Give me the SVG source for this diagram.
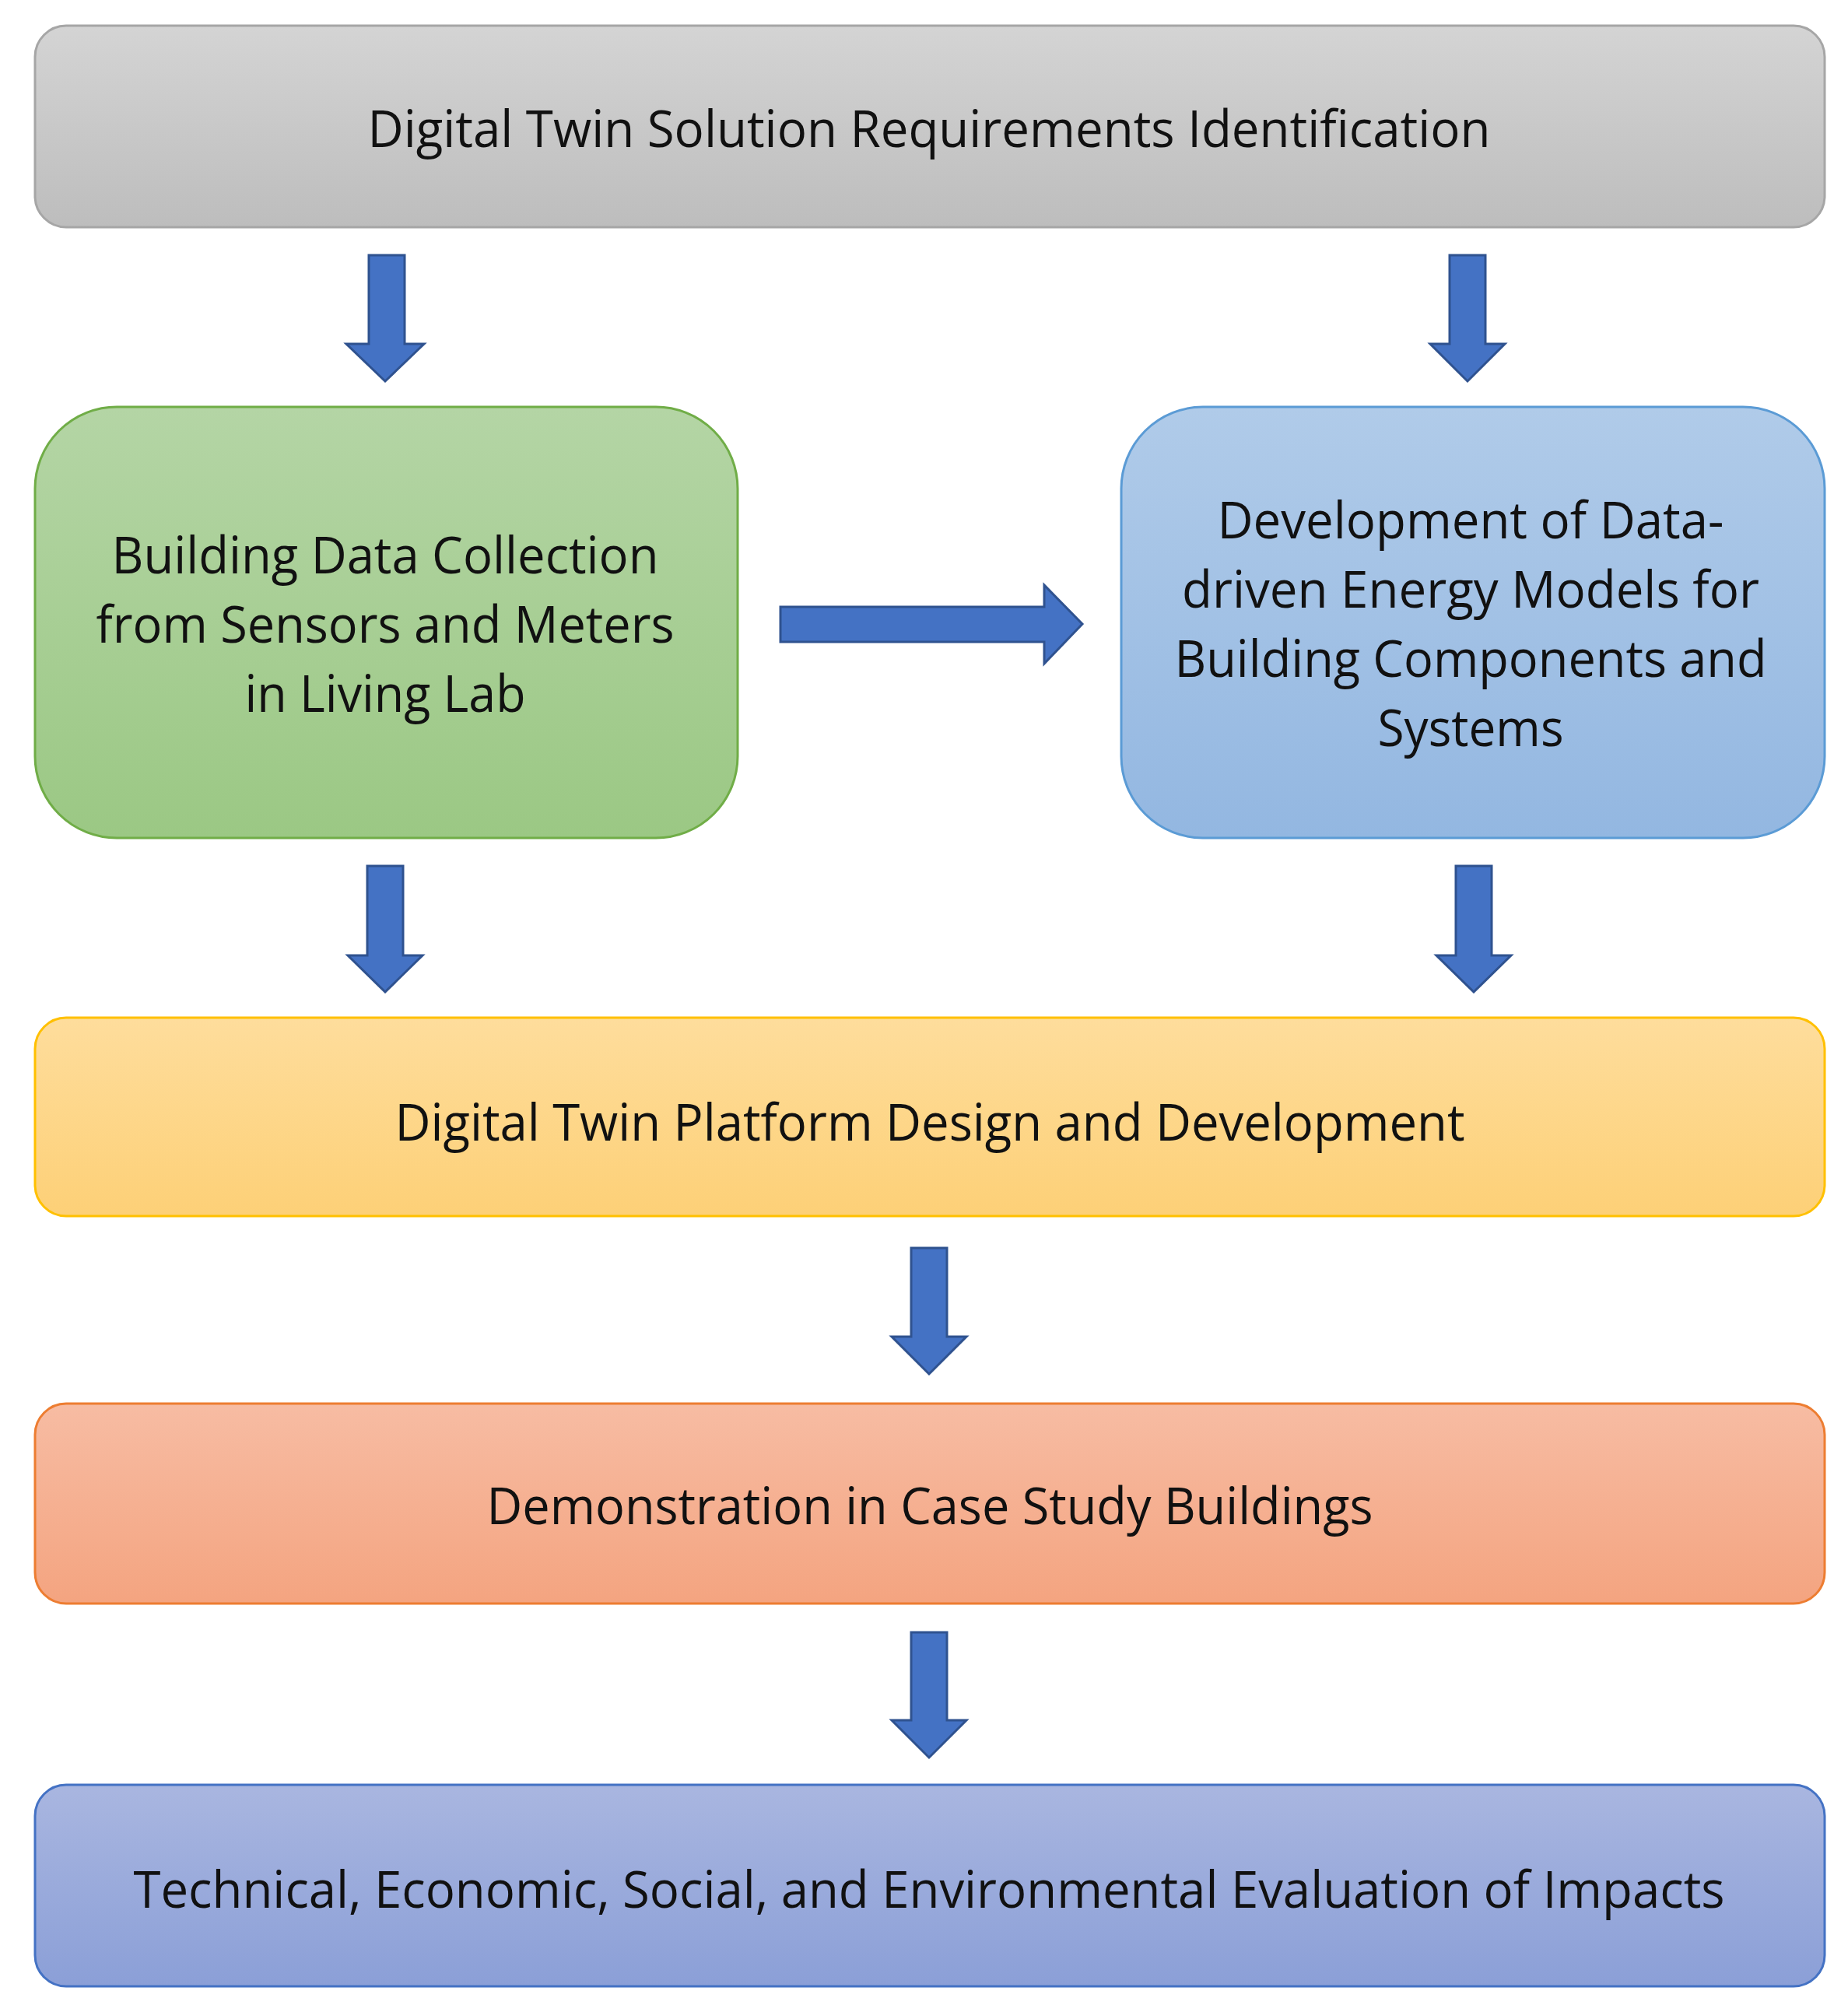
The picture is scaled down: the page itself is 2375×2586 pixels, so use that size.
<svg xmlns="http://www.w3.org/2000/svg" width="2375" height="2586" viewBox="0 0 2375 2586">
<style>
text{font-family:"Open Sans","Liberation Sans",sans-serif;font-size:66px;fill:#111;text-anchor:middle;dominant-baseline:central}
.box{stroke-width:3}
.arr{fill:#4472c4;stroke:#2f528f;stroke-width:3}
</style>
<defs>
<linearGradient id="gGray" x1="0" y1="0" x2="0" y2="1"><stop offset="0" stop-color="#d4d4d4"/><stop offset="1" stop-color="#bdbdbd"/></linearGradient>
<linearGradient id="gGreen" x1="0" y1="0" x2="0" y2="1"><stop offset="0" stop-color="#b4d5a5"/><stop offset="1" stop-color="#9bc884"/></linearGradient>
<linearGradient id="gBlue" x1="0" y1="0" x2="0" y2="1"><stop offset="0" stop-color="#b0cbe9"/><stop offset="1" stop-color="#93b7e1"/></linearGradient>
<linearGradient id="gYellow" x1="0" y1="0" x2="0" y2="1"><stop offset="0" stop-color="#fedd9c"/><stop offset="1" stop-color="#fdd077"/></linearGradient>
<linearGradient id="gOrange" x1="0" y1="0" x2="0" y2="1"><stop offset="0" stop-color="#f7bca3"/><stop offset="1" stop-color="#f4a480"/></linearGradient>
<linearGradient id="gPurple" x1="0" y1="0" x2="0" y2="1"><stop offset="0" stop-color="#a9b6e0"/><stop offset="1" stop-color="#8b9fd7"/></linearGradient>
</defs>
<rect width="2375" height="2586" fill="#fff"/>
<g id="n-requirements"><rect class="box" x="45" y="33" width="2300" height="259" rx="40" fill="url(#gGray)" stroke="#a6a6a6"/>
<text x="1194" y="163" textLength="1443" lengthAdjust="spacingAndGlyphs">Digital Twin Solution Requirements Identification</text></g>
<g id="n-data"><rect class="box" x="45" y="523" width="903" height="554" rx="105" fill="url(#gGreen)" stroke="#70ad47"/>
<text x="495" y="711" textLength="703" lengthAdjust="spacingAndGlyphs">Building Data Collection</text>
<text x="495" y="800" textLength="743" lengthAdjust="spacingAndGlyphs">from Sensors and Meters</text>
<text x="495" y="889" textLength="361" lengthAdjust="spacingAndGlyphs">in Living Lab</text></g>
<g id="n-models"><rect class="box" x="1441" y="523" width="904" height="554" rx="105" fill="url(#gBlue)" stroke="#5b9bd5"/>
<text x="1890" y="666" textLength="651" lengthAdjust="spacingAndGlyphs">Development of Data-</text>
<text x="1890" y="755" textLength="742" lengthAdjust="spacingAndGlyphs">driven Energy Models for</text>
<text x="1890" y="844" textLength="761" lengthAdjust="spacingAndGlyphs">Building Components and</text>
<text x="1890" y="933" textLength="239" lengthAdjust="spacingAndGlyphs">Systems</text></g>
<g id="n-platform"><rect class="box" x="45" y="1308" width="2300" height="255" rx="40" fill="url(#gYellow)" stroke="#ffc000"/>
<text x="1195" y="1440" textLength="1375" lengthAdjust="spacingAndGlyphs">Digital Twin Platform Design and Development</text></g>
<g id="n-demo"><rect class="box" x="45" y="1804" width="2300" height="257" rx="40" fill="url(#gOrange)" stroke="#ed7d31"/>
<text x="1195" y="1933" textLength="1139" lengthAdjust="spacingAndGlyphs">Demonstration in Case Study Buildings</text></g>
<g id="n-eval"><rect class="box" x="45" y="2294" width="2300" height="259" rx="40" fill="url(#gPurple)" stroke="#4472c4"/>
<text x="1194" y="2426" textLength="2045" lengthAdjust="spacingAndGlyphs">Technical, Economic, Social, and Environmental Evaluation of Impacts</text></g>
<g id="connectors">
<path class="arr" d="M474 328H520V442H545L495 490L445 442H474Z"/>
<path class="arr" d="M1863 328H1909V442H1934L1886 490L1838 442H1863Z"/>
<path class="arr" d="M472 1113H518V1228H543L495 1275L447 1228H472Z"/>
<path class="arr" d="M1871 1113H1917V1228H1942L1894 1275L1846 1228H1871Z"/>
<path class="arr" d="M1171 1604H1217V1718H1242L1194 1766L1146 1718H1171Z"/>
<path class="arr" d="M1171 2098H1217V2211H1242L1194 2259L1146 2211H1171Z"/>
<path class="arr" d="M1003 780H1342V752L1391 802L1342 853V825H1003Z"/>
</g>
</svg>
